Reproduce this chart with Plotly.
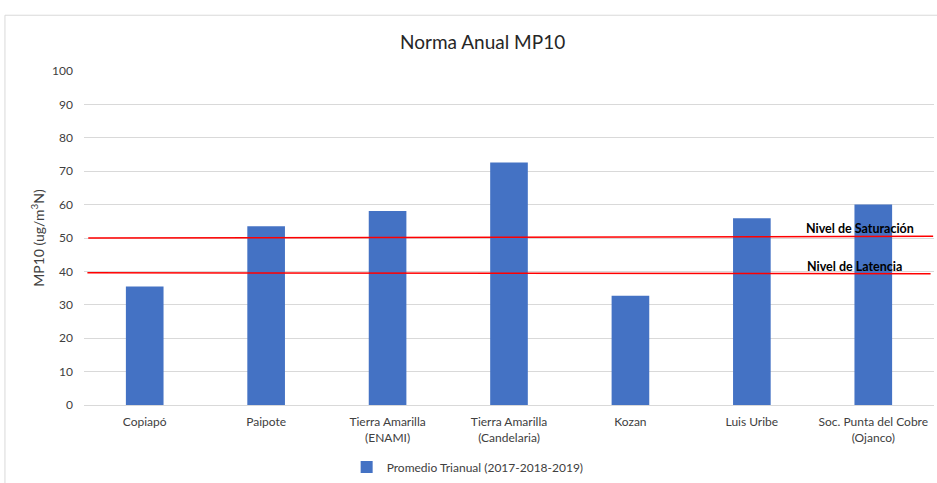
import plotly.graph_objects as go

categories = ["Copiapó", "Paipote", "Tierra Amarilla<br>(ENAMI)", "Tierra Amarilla<br>(Candelaria)",
              "Kozan", "Luis Uribe", "Soc. Punta del Cobre<br>(Ojanco)"]
values = [35.5, 53.5, 58.1, 72.6, 32.7, 55.9, 60.0]
series_name = "Promedio Trianual (2017-2018-2019)"

# threshold lines: level at left end, level at right end (as drawn)
saturacion = [50.0, 50.5]
latencia = [39.6, 39.3]
y_ticks = list(range(0, 101, 10))

FONT = "Lato"
fig = go.Figure()
fig.add_trace(go.Bar(x=categories, y=values, name=series_name,
                     marker=dict(color="#4472C4", line=dict(width=0)),
                     showlegend=True))

fig.update_layout(
    width=937, height=483,
    margin=dict(l=84, r=3, t=70.7, b=78.3, autoexpand=False),
    paper_bgcolor="white", plot_bgcolor="white",
    font=dict(family=FONT, size=12, color="#404040"),
    bargap=0.69,
    title=dict(text="Norma Anual MP10", x=0.469, xref="paper", xanchor="center",
               y=1 - 42 / 483, yanchor="middle",
               font=dict(family=FONT, size=19, color="#262626")),
    showlegend=True,
    legend=dict(orientation="h", x=0.309, xanchor="left", xref="paper",
                y=1 - 467 / 483, yanchor="middle", yref="container",
                font=dict(family=FONT, size=12, color="#404040"),
                itemwidth=30),
    xaxis=dict(showgrid=False, ticks="", showline=False, automargin=False,
               ticklabelstandoff=8, tickfont=dict(size=12)),
    yaxis=dict(range=[0, 100], tickvals=y_ticks, showgrid=True, gridcolor="#d9d9d9",
               gridwidth=1, zeroline=True, zerolinecolor="#d9d9d9", zerolinewidth=1,
               ticks="", showline=False, ticklabelstandoff=10, automargin=False,
               tickfont=dict(size=12),
               title=dict(text="MP10 (ug/m<sup>3</sup>N)", standoff=4,
                          font=dict(family=FONT, size=14, color="#404040"))),
)

# chart frame
fig.add_shape(type="rect", xref="paper", yref="paper", x0=-0.093, x1=1.2, y0=-0.6, y1=1.167,
              line=dict(color="#d9d9d9", width=1), fillcolor="rgba(0,0,0,0)", layer="below")

fig.add_shape(type="line", xref="paper", yref="y", x0=0.005, x1=0.999,
              y0=saturacion[0], y1=saturacion[1], line=dict(color="#ff0000", width=1.5))
fig.add_shape(type="line", xref="paper", yref="y", x0=0.004, x1=0.996,
              y0=latencia[0], y1=latencia[1], line=dict(color="#ff0000", width=1.5))

fig.add_annotation(text="<b>Nivel de Saturación</b>", xref="paper", yref="y",
                   x=(804 - 84) / 850, xanchor="left", y=saturacion[1] + 2.2, yanchor="middle",
                   showarrow=False, font=dict(family=FONT, size=12.5, color="#000000"))
fig.add_annotation(text="<b>Nivel de Latencia</b>", xref="paper", yref="y",
                   x=(805 - 84) / 850, xanchor="left", y=latencia[1] + 2.2, yanchor="middle",
                   showarrow=False, font=dict(family=FONT, size=12.5, color="#000000"))

fig.write_html("out.html", config={"displayModeBar": False},
               post_script="document.body.style.margin='0';")
